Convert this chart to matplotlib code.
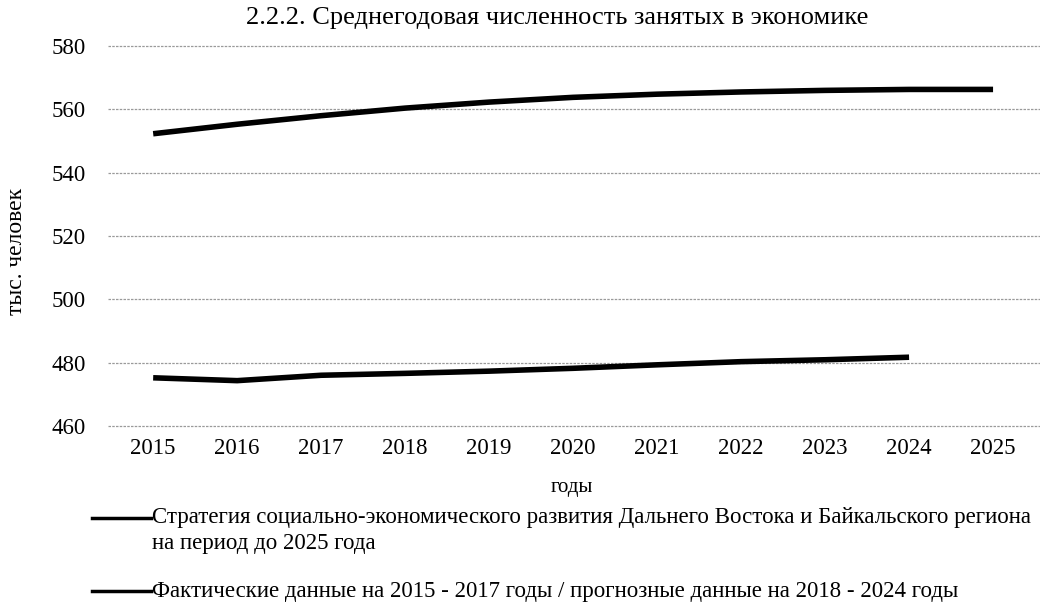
"""Среднегодовая численность занятых в экономике (2.2.2)."""

import matplotlib
matplotlib.use("Agg")
import matplotlib.pyplot as plt
from matplotlib.lines import Line2D

plt.rcParams["font.family"] = ["Liberation Serif", "DejaVu Serif"]

YEARS = ["2015", "2016", "2017", "2018", "2019", "2020",
         "2021", "2022", "2023", "2024", "2025"]
# strategy of the Far East and Baikal region, 2015-2025
STRATEGY = [552.3, 555.3, 558.0, 560.4, 562.3, 563.8,
            564.8, 565.5, 566.0, 566.3, 566.3]
# actual 2015-2017 / forecast 2018-2024
FACT = [475.2, 474.3, 476.0, 476.6, 477.3, 478.2,
        479.3, 480.3, 480.9, 481.7]
Y_TICKS = [460, 480, 500, 520, 540, 560, 580]

TITLE = "2.2.2. Среднегодовая численность занятых в экономике"
LABEL_STRATEGY_1 = "Стратегия социально-экономического развития Дальнего Востока и Байкальского региона"
LABEL_STRATEGY_2 = "на период до 2025 года"
LABEL_FACT = "Фактические данные на 2015 - 2017 годы / прогнозные данные на 2018 - 2024 годы"

fig = plt.figure(figsize=(10.57, 6.09), dpi=100)
ax = fig.add_axes([0.102, 0.297, 0.882, 0.631])

x_all = list(range(len(YEARS)))
ax.plot(x_all, STRATEGY, color="black", linewidth=4, solid_capstyle="butt")
ax.plot(x_all[:len(FACT)], FACT, color="black", linewidth=4, solid_capstyle="butt")

ax.set_xlim(-0.54, 10.56)
ax.set_ylim(459.3, 580.7)
ax.set_yticks(Y_TICKS)
ax.set_xticks(x_all)
ax.set_xticklabels(YEARS)
ax.tick_params(axis="both", length=0, labelsize=16.5)
ax.tick_params(axis="y", pad=16)
ax.tick_params(axis="x", pad=7)
ax.grid(axis="y", color="#9a9a9a", linewidth=0.9, linestyle=(0, (2, 1)))
ax.set_axisbelow(True)
for sp in ax.spines.values():
    sp.set_visible(False)

ax.set_ylabel("тыс. человек", fontsize=17)
ax.yaxis.set_label_coords(-0.087, 0.46)

fig.text(0.527, 0.97, TITLE, ha="center", va="center", fontsize=19)
fig.text(0.541, 0.199, "годы", ha="center", va="center", fontsize=15)

# legend drawn by hand: key line level with the first text line
y1 = 1 - 518 / 609
y1b = 1 - 543 / 609
y2 = 1 - 591 / 609
for yf in (y1, y2):
    fig.add_artist(Line2D([0.087, 0.143], [yf, yf], color="black", linewidth=2.5))
fig.text(0.144, y1, LABEL_STRATEGY_1, ha="left", va="center", fontsize=16.5)
fig.text(0.144, y1b, LABEL_STRATEGY_2, ha="left", va="center", fontsize=16.5)
fig.text(0.144, y2, LABEL_FACT, ha="left", va="center", fontsize=16.5)

fig.savefig("out.png", dpi=100)
